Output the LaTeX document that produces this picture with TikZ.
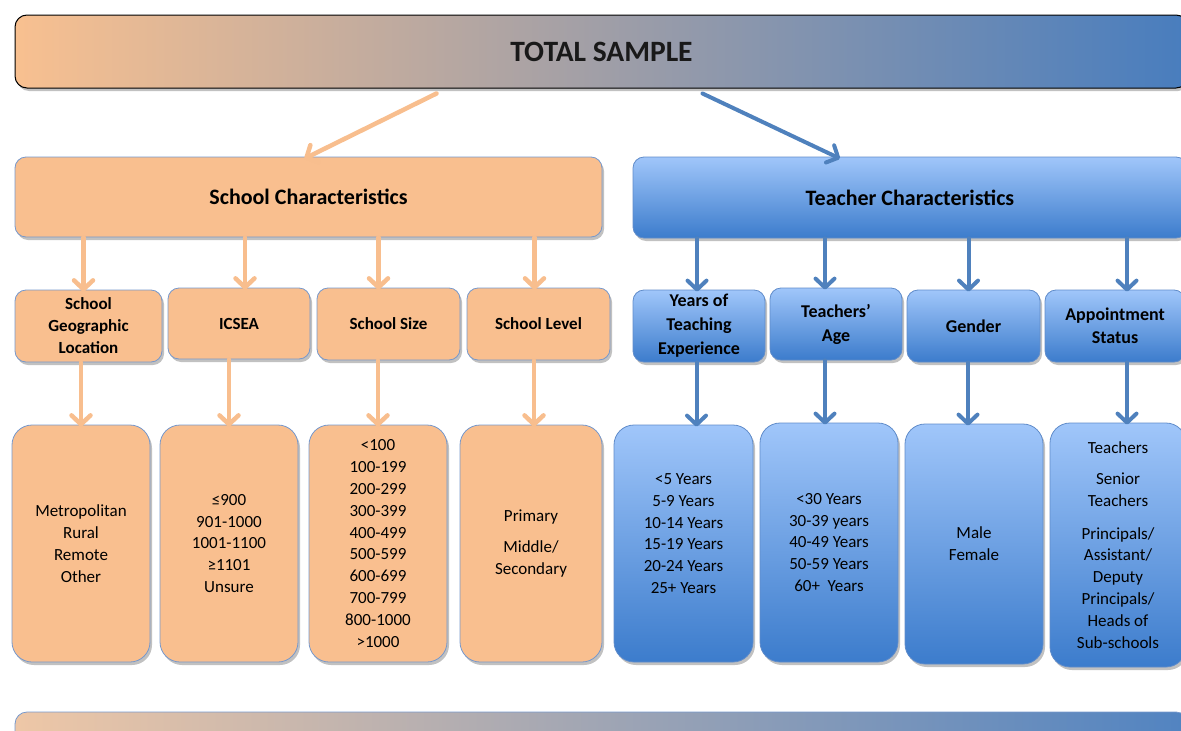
\documentclass[tikz,border=0pt]{standalone}
\usepackage{fontspec}
\setmainfont{Carlito}
\usetikzlibrary{arrows.meta,shadows}

\definecolor{peach}{RGB}{249,191,143}
\definecolor{peachline}{RGB}{248,190,142}
\definecolor{peachedge}{RGB}{118,152,204}
\definecolor{bluetop}{RGB}{160,198,250}
\definecolor{bluebot}{RGB}{60,124,204}
\definecolor{blueedge}{RGB}{96,140,202}
\definecolor{blueline}{RGB}{79,129,189}
\definecolor{bandleft}{RGB}{248,192,144}
\definecolor{bandright}{RGB}{72,125,190}

\tikzset{
  shade/.style={drop shadow={shadow xshift=2pt,shadow yshift=-3pt,opacity=.35,fill=black!70}},
  peachbox/.style={draw=peachedge, line width=0.8pt, fill=peach, rounded corners=11pt,
    align=center, inner sep=2pt, shade},
  bluebox/.style={draw=blueedge, line width=0.8pt, top color=bluetop, bottom color=bluebot,
    rounded corners=11pt, align=center, inner sep=2pt, shade},
  listbox/.style={rounded corners=20pt, font=\fontsize{17}{21.8}\selectfont},
  headbox/.style={font=\fontsize{17}{22}\selectfont\bfseries},
  peacharrow/.style={draw=peachline, line width=4.5pt, line cap=round,
    -{Straight Barb[round,length=9pt,width=19pt]}},
  bluearrow/.style={draw=blueline, line width=4pt, line cap=round,
    -{Straight Barb[round,length=9pt,width=19pt]}}
}

\begin{document}
\begin{tikzpicture}[x=1pt, y=-1pt]
\useasboundingbox (0,0) rectangle (1181,731);
\clip (0,0) rectangle (1181,731);

% top band
\node [draw=black, line width=1pt, left color=bandleft, right color=bandright, rounded corners=12pt,
  minimum width=1173pt, minimum height=73pt, shade, font=\fontsize{29.5}{32}\selectfont\bfseries,
  text=black!90]
  (total) at (601.5,51.5) {TOTAL SAMPLE};

% characteristics
\node [peachbox, minimum width=587pt, minimum height=80pt, font=\fontsize{22}{24}\selectfont\bfseries]
  (school) at (308.5,197) {School Characteristics};
\node [bluebox, minimum width=554pt, minimum height=81pt, font=\fontsize{22}{24}\selectfont\bfseries]
  (teacher) at (910,197.5) {Teacher Characteristics};
\draw [peacharrow] ([xshift=422pt,yshift=-5pt]total.south west) -- ([xshift=-4pt,yshift=-2pt]school.north);
\draw [bluearrow] ([xshift=688pt,yshift=-5pt]total.south west) -- ([xshift=-70pt,yshift=-2pt]teacher.north);

% school variables
\node [peachbox, headbox, minimum width=147pt, minimum height=72pt] (geo) at (88.5,326) {School\\Geographic\\Location};
\node [peachbox, headbox, minimum width=142pt, minimum height=71pt] (icsea) at (239,323.5) {ICSEA};
\node [peachbox, headbox, minimum width=143pt, minimum height=72pt] (size) at (388.5,324) {School Size};
\node [peachbox, headbox, minimum width=143pt, minimum height=72pt] (level) at (538.5,324) {School Level};

% teacher variables
\node [bluebox, headbox, font=\fontsize{18}{24}\selectfont\bfseries, minimum width=132pt, minimum height=72pt]
  (exper) at (699,326) {Years of\\Teaching\\Experience};
\node [bluebox, headbox, font=\fontsize{18}{24}\selectfont\bfseries, minimum width=132pt, minimum height=72pt]
  (age) at (836,324) {Teachers’\\Age};
\node [bluebox, headbox, font=\fontsize{18}{24}\selectfont\bfseries, minimum width=133pt, minimum height=72pt]
  (gender) at (973.5,326) {Gender};
\node [bluebox, headbox, font=\fontsize{18}{23}\selectfont\bfseries, minimum width=140pt, minimum height=72pt]
  (appoint) at (1115,326) {Appointment\\Status};

% categories
\node [peachbox, listbox, minimum width=138pt, minimum height=237pt] (geolist) at (81,543.5)
  {Metropolitan\\Rural\\Remote\\Other};
\node [peachbox, listbox, minimum width=138pt, minimum height=237pt] (icsealist) at (229,543.5)
  {≤900\\901-1000\\1001-1100\\≥1101\\Unsure};
\node [peachbox, listbox, minimum width=138pt, minimum height=237pt] (sizelist) at (378,543.5)
  {<100\\100-199\\200-299\\300-399\\400-499\\500-599\\600-699\\700-799\\800-1000\\>1000};
\node [peachbox, listbox, minimum width=142pt, minimum height=237pt] (levellist) at (531,543.5)
  {Primary\\[9pt]Middle/\\Secondary};
\node [bluebox, listbox, minimum width=139pt, minimum height=237pt] (experlist) at (683.5,543.5)
  {<5 Years\\5-9 Years\\10-14 Years\\15-19 Years\\20-24 Years\\25+ Years\\[-1.8pt]};
\node [bluebox, listbox, minimum width=138pt, minimum height=239pt] (agelist) at (829,542.5)
  {<30 Years\\30-39 years\\40-49 Years\\50-59 Years\\60+~ Years};
\node [bluebox, listbox, minimum width=138pt, minimum height=240pt] (genderlist) at (974,544)
  {Male\\Female};
\node [bluebox, listbox, minimum width=136pt, minimum height=244pt] (appointlist) at (1118,545)
  {Teachers\\[9pt]Senior\\Teachers\\[11pt]Principals/\\Assistant/\\Deputy\\Principals/\\Heads of\\Sub-schools};

% arrows, school side
\draw [peacharrow] ([xshift=-5pt]geo.north |- school.south) -- ([xshift=-5pt,yshift=-2pt]geo.north);
\draw [peacharrow] ([xshift=6pt]icsea.north |- school.south) -- ([xshift=6pt,yshift=-2pt]icsea.north);
\draw [peacharrow] ([xshift=-10pt]size.north |- school.south) -- ([xshift=-10pt,yshift=-2pt]size.north);
\draw [peacharrow] ([xshift=-4pt]level.north |- school.south) -- ([xshift=-4pt,yshift=-2pt]level.north);
\draw [peacharrow] (geolist.north |- geo.south) -- ([yshift=-2pt]geolist.north);
\draw [peacharrow] (icsealist.north |- icsea.south) -- ([yshift=-2pt]icsealist.north);
\draw [peacharrow] (sizelist.north |- size.south) -- ([yshift=-2pt]sizelist.north);
\draw [peacharrow] ([xshift=3pt]levellist.north |- level.south) -- ([xshift=3pt,yshift=-2pt]levellist.north);

% arrows, teacher side
\draw [bluearrow] ([xshift=-2pt]exper.north |- teacher.south) -- ([xshift=-2pt,yshift=-2pt]exper.north);
\draw [bluearrow] ([xshift=-11pt]age.north |- teacher.south) -- ([xshift=-11pt,yshift=-2pt]age.north);
\draw [bluearrow] ([xshift=-5pt]gender.north |- teacher.south) -- ([xshift=-5pt,yshift=-2pt]gender.north);
\draw [bluearrow] ([xshift=12pt]appoint.north |- teacher.south) -- ([xshift=12pt,yshift=-2pt]appoint.north);
\draw [bluearrow] ([xshift=13pt]experlist.north |- exper.south) -- ([xshift=13pt,yshift=-2pt]experlist.north);
\draw [bluearrow] ([xshift=-4pt]agelist.north |- age.south) -- ([xshift=-4pt,yshift=-2pt]agelist.north);
\draw [bluearrow] ([xshift=-6pt]genderlist.north |- gender.south) -- ([xshift=-6pt,yshift=-2pt]genderlist.north);
\draw [bluearrow] ([xshift=9pt]appointlist.north |- appoint.south) -- ([xshift=9pt,yshift=-2pt]appointlist.north);

% bottom band
\node [draw=peachedge, line width=0.8pt, left color=peach!75!white!90!gray, right color=bandright!95!white,
  rounded corners=12pt, minimum width=1173pt, minimum height=73pt] (band) at (601.5,748.5) {};
\end{tikzpicture}
\end{document}
